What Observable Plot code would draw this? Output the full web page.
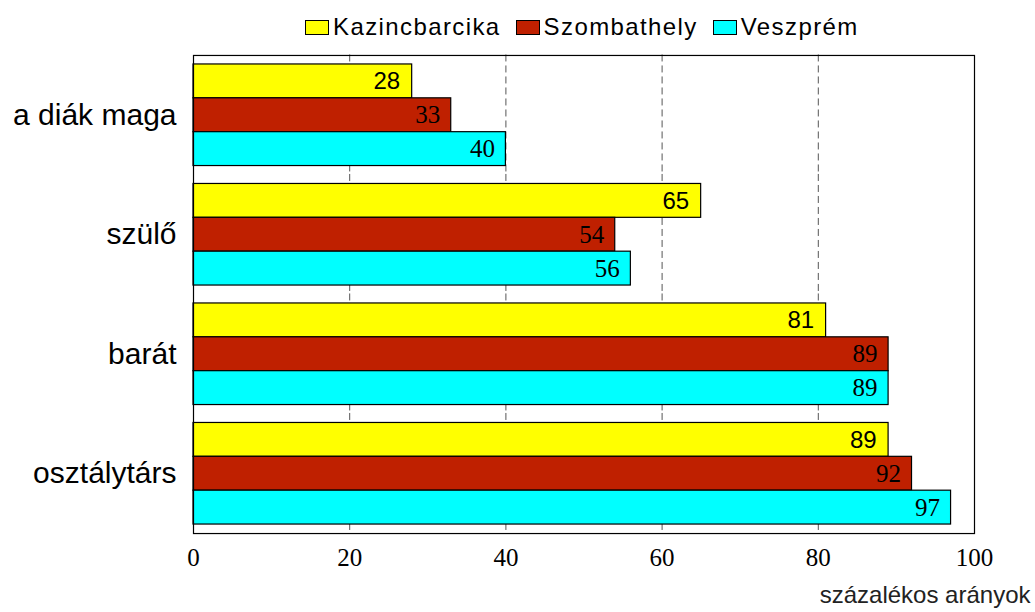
<!DOCTYPE html>
<html>
<head>
<meta charset="utf-8">
<script src="https://cdn.jsdelivr.net/npm/d3@7"></script>
<script src="https://cdn.jsdelivr.net/npm/@observablehq/plot@0.6"></script>
<style>
  html, body { margin: 0; padding: 0; background: #fff; }
  #wrap { position: relative; width: 1035px; height: 612px; }
  #legend { position: absolute; z-index: 2; top: 10px; left: 305px; display: flex;
    font-family: "Liberation Sans", Arial, sans-serif; font-size: 24px; letter-spacing: 1.4px; color: #000; line-height: 34px; }
  .item { display: flex; align-items: center; margin-right: 15px; }
  .sw { width: 24px; height: 15px; border: 1.5px solid #000; margin-right: 4px; box-sizing: border-box; }
  #chart { position: absolute; z-index: 1; top: 0; left: 0; }
</style>
</head>
<body>
<div id="wrap">
  <div id="chart"></div>
  <div id="legend"></div>
</div>
<script>
const categories = ["a diák maga", "szülő", "barát", "osztálytárs"];
const series = ["Kazincbarcika", "Szombathely", "Veszprém"];
const kazincbarcika = [28, 65, 81, 89];
const szombathely = [33, 54, 89, 92];
const veszprem = [40, 56, 89, 97];
const xTicks = [0, 20, 40, 60, 80, 100];
const gridTicks = [20, 40, 60, 80];
const colors = ["#FFFF00", "#BF2000", "#00FFFF"];
const axisTitle = "százalékos arányok";

const seriesValues = [kazincbarcika, szombathely, veszprem];
const data = [];
categories.forEach((c, i) => series.forEach((s, j) => data.push({cat: c, series: s, value: seriesValues[j][i]})));

const legend = document.getElementById("legend");
series.forEach((s, j) => {
  const it = document.createElement("div");
  it.className = "item";
  const sw = document.createElement("div");
  sw.className = "sw";
  sw.style.background = colors[j];
  const t = document.createElement("span");
  t.textContent = s;
  it.appendChild(sw); it.appendChild(t);
  legend.appendChild(it);
});

const chart = Plot.plot({
  width: 1035,
  height: 612,
  marginLeft: 193,
  marginRight: 61,
  marginTop: 55,
  marginBottom: 79,
  style: {background: "#fff"},
  x: {domain: [0, 100], ticks: xTicks, label: null},
  y: {domain: series, padding: 0, axis: null, round: false},
  fy: {domain: categories, paddingInner: 0.15, paddingOuter: 0.075, round: false, label: null},
  color: {domain: series, range: colors},
  marks: [
    Plot.ruleX(gridTicks, {stroke: "#555", strokeWidth: 1, strokeDasharray: "7,4", insetTop: -9.5, insetBottom: -9.5}),
    Plot.barX(data, {fy: "cat", y: "series", x: "value", fill: "series", stroke: "#000", strokeWidth: 1.2}),
    Plot.text(data.filter(d => d.series === "Kazincbarcika"), {fy: "cat", y: "series", x: "value", text: d => String(d.value),
      textAnchor: "end", dx: -12, fontSize: 24, fontFamily: "Liberation Sans, Arial, sans-serif", fill: "#000"}),
    Plot.text(data.filter(d => d.series !== "Kazincbarcika"), {fy: "cat", y: "series", x: "value", text: d => String(d.value),
      textAnchor: "end", dx: -11, fontSize: 25, fontFamily: "Liberation Serif, Times New Roman, serif", fill: "#000"}),
    Plot.axisFy({anchor: "left", tickSize: 0, tickPadding: 17, fontSize: 30, fontFamily: "Liberation Sans, Arial, sans-serif", label: null, color: "#000"}),
    Plot.axisX({anchor: "bottom", facetAnchor: "bottom", ticks: xTicks, tickSize: 0, tickPadding: 24, fontSize: 25, fontFamily: "Liberation Serif, Times New Roman, serif", label: null, color: "#000"}),
    Plot.frame({facet: "super", stroke: "#000", strokeWidth: 1.2, insetTop: -9, insetBottom: -9}),
    Plot.text([axisTitle], {facet: "super", frameAnchor: "bottom-right", dx: 56, dy: 78, textAnchor: "end", fontSize: 24, fontFamily: "Liberation Sans, Arial, sans-serif", fill: "#222"})
  ]
});
document.getElementById("chart").appendChild(chart);
</script>
</body>
</html>
